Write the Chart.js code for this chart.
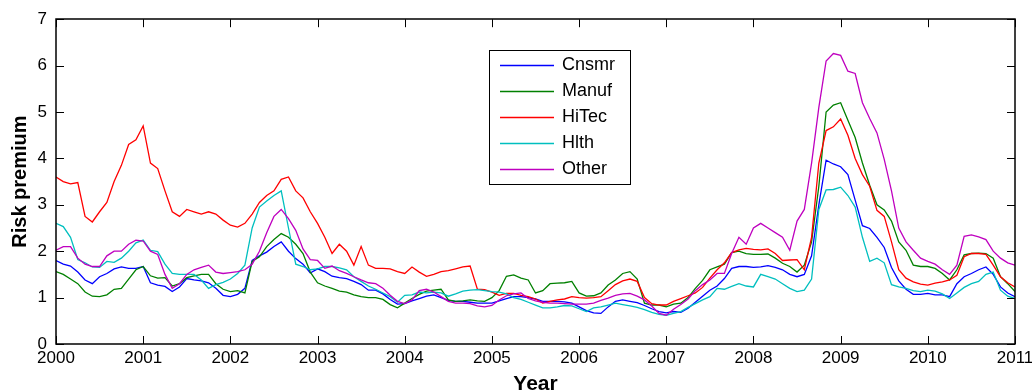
<!DOCTYPE html>
<html>
<head>
<meta charset="utf-8">
<script src="https://cdn.jsdelivr.net/npm/chart.js@4/dist/chart.umd.min.js"></script>
<style>
  html, body { margin: 0; padding: 0; background: #fff; }
</style>
</head>
<body>
<canvas id="premiumChart" width="1032" height="391"></canvas>
<script>
// ---------------- DATA ----------------
// monthly samples, Jan 2000 .. Jan 2011
const startYear = 2000;
const months = [];
for (let i = 0; i <= 132; i++) months.push(startYear + i / 12);

const yearTicks = [2000, 2001, 2002, 2003, 2004, 2005, 2006, 2007, 2008, 2009, 2010, 2011];
const premiumTicks = [0, 1, 2, 3, 4, 5, 6, 7];

const industries = ["Cnsmr", "Manuf", "HiTec", "Hlth", "Other"];
const lineColors = ["#0000ff", "#008000", "#ff0000", "#00bfbf", "#bf00bf"];

const cnsmr = [
  1.80, 1.72, 1.68, 1.55, 1.38, 1.30, 1.45, 1.52, 1.62, 1.66, 1.63, 1.63,
  1.67, 1.32, 1.27, 1.24, 1.13, 1.23, 1.41, 1.38, 1.36, 1.32, 1.20, 1.05,
  1.02, 1.07, 1.20, 1.80, 1.90, 1.98, 2.10, 2.20, 2.00, 1.84, 1.72, 1.53,
  1.62, 1.56, 1.46, 1.43, 1.41, 1.35, 1.28, 1.16, 1.16, 1.08, 0.96, 0.86,
  0.87, 0.93, 0.98, 1.03, 1.06, 1.00, 0.94, 0.92, 0.92, 0.90, 0.88, 0.88,
  0.88, 0.93, 0.98, 1.02, 1.02, 1.00, 0.97, 0.92, 0.92, 0.92, 0.91, 0.88,
  0.80, 0.72, 0.67, 0.66, 0.80, 0.92, 0.95, 0.92, 0.89, 0.83, 0.76, 0.70,
  0.67, 0.70, 0.68, 0.77, 0.90, 1.03, 1.16, 1.25, 1.41, 1.63, 1.67, 1.67,
  1.65, 1.66, 1.69, 1.65, 1.60, 1.50, 1.45, 1.50, 1.90, 3.00, 3.96, 3.88,
  3.82, 3.65, 3.10, 2.55, 2.49, 2.30, 2.08, 1.65, 1.36, 1.18, 1.07, 1.07,
  1.09, 1.06, 1.06, 1.02, 1.30, 1.45, 1.52, 1.60, 1.66, 1.50, 1.23, 1.10,
  1.02
];

const manuf = [
  1.56, 1.50, 1.40, 1.30, 1.12, 1.03, 1.02, 1.06, 1.18, 1.20, 1.40, 1.60,
  1.67, 1.47, 1.42, 1.43, 1.25, 1.30, 1.43, 1.47, 1.50, 1.50, 1.30, 1.18,
  1.13, 1.15, 1.10, 1.78, 1.88, 2.10, 2.25, 2.38, 2.30, 2.15, 1.95, 1.55,
  1.32, 1.25, 1.20, 1.14, 1.12, 1.06, 1.02, 1.00, 1.00, 0.96, 0.85, 0.78,
  0.88, 0.98, 1.07, 1.14, 1.16, 1.18, 0.95, 0.92, 0.93, 0.95, 0.93, 0.92,
  1.00, 1.15, 1.46, 1.49, 1.42, 1.38, 1.10, 1.15, 1.30, 1.31, 1.32, 1.35,
  1.10, 1.03, 1.04, 1.10, 1.27, 1.38, 1.52, 1.56, 1.40, 0.88, 0.84, 0.84,
  0.80, 0.86, 0.88, 1.00, 1.20, 1.37, 1.60, 1.66, 1.72, 1.97, 2.00, 1.95,
  1.93, 1.93, 1.94, 1.85, 1.74, 1.67, 1.55, 1.70, 2.20, 3.40, 5.00, 5.15,
  5.20, 4.82, 4.45, 3.90, 3.42, 3.00, 2.89, 2.65, 2.20, 2.02, 1.70, 1.67,
  1.67, 1.63, 1.52, 1.38, 1.60, 1.92, 1.95, 1.96, 1.95, 1.85, 1.45, 1.30,
  1.13
];

const hiTec = [
  3.60, 3.50, 3.45, 3.48, 2.75, 2.63, 2.85, 3.05, 3.50, 3.85, 4.30, 4.40,
  4.70, 3.90, 3.78, 3.30, 2.85, 2.75, 2.90, 2.85, 2.80, 2.85, 2.80, 2.67,
  2.56, 2.52, 2.60, 2.80, 3.05, 3.20, 3.30, 3.55, 3.60, 3.30, 3.15, 2.85,
  2.60, 2.30, 1.95, 2.15, 2.00, 1.70, 2.10, 1.70, 1.63, 1.63, 1.62, 1.56,
  1.52, 1.66, 1.55, 1.46, 1.50, 1.56, 1.58, 1.62, 1.66, 1.68, 1.18, 1.17,
  1.12, 1.05, 1.09, 1.09, 1.05, 1.02, 0.97, 0.88, 0.92, 0.95, 0.97, 1.02,
  1.00, 0.99, 1.00, 1.02, 1.15, 1.28, 1.36, 1.40, 1.35, 1.00, 0.87, 0.84,
  0.84, 0.92, 0.98, 1.04, 1.10, 1.22, 1.42, 1.60, 1.75, 1.97, 2.03, 2.06,
  2.04, 2.03, 2.05, 1.95, 1.80, 1.81, 1.82, 1.60, 2.30, 3.90, 4.60, 4.68,
  4.85, 4.50, 4.00, 3.65, 3.40, 2.88, 2.75, 2.20, 1.60, 1.42, 1.34, 1.29,
  1.27, 1.31, 1.34, 1.38, 1.48, 1.88, 1.95, 1.95, 1.93, 1.70, 1.45, 1.32,
  1.23
];

const hlth = [
  2.60, 2.53, 2.30, 1.82, 1.75, 1.66, 1.65, 1.78, 1.76, 1.85, 2.00, 2.18,
  2.24, 2.02, 1.99, 1.72, 1.52, 1.50, 1.50, 1.50, 1.38, 1.20, 1.28, 1.33,
  1.40, 1.52, 1.70, 2.50, 2.95, 3.08, 3.20, 3.30, 2.50, 1.72, 1.67, 1.60,
  1.62, 1.67, 1.67, 1.64, 1.60, 1.45, 1.35, 1.25, 1.18, 1.10, 1.02, 0.90,
  1.05, 1.06, 1.12, 1.10, 1.12, 1.10, 1.03, 1.08, 1.14, 1.16, 1.17, 1.15,
  1.13, 1.12, 1.08, 1.00, 0.96, 0.90, 0.84, 0.78, 0.78, 0.80, 0.83, 0.82,
  0.76, 0.70, 0.78, 0.80, 0.84, 0.88, 0.85, 0.82, 0.79, 0.74, 0.68, 0.64,
  0.62, 0.66, 0.70, 0.79, 0.87, 0.95, 1.02, 1.20, 1.18, 1.24, 1.30, 1.25,
  1.23, 1.50, 1.45, 1.40, 1.30, 1.20, 1.13, 1.16, 1.40, 2.90, 3.32, 3.33,
  3.38, 3.20, 2.95, 2.30, 1.78, 1.85, 1.75, 1.28, 1.23, 1.20, 1.15, 1.13,
  1.16, 1.14, 1.08, 0.98, 1.10, 1.22, 1.30, 1.35, 1.50, 1.55, 1.16, 1.03,
  0.98
];

const other = [
  2.02, 2.10, 2.10, 1.85, 1.72, 1.67, 1.67, 1.90, 2.00, 2.00, 2.15, 2.24,
  2.22, 2.00, 1.93, 1.50, 1.20, 1.30, 1.50, 1.60, 1.65, 1.70, 1.55, 1.52,
  1.54, 1.56, 1.60, 1.72, 2.00, 2.40, 2.75, 2.90, 2.70, 2.45, 2.05, 1.82,
  1.80, 1.63, 1.68, 1.58, 1.52, 1.45, 1.38, 1.32, 1.30, 1.20, 1.05, 0.92,
  0.87, 0.95, 1.15, 1.18, 1.12, 1.02, 0.92, 0.88, 0.88, 0.87, 0.82, 0.80,
  0.83, 0.95, 1.04, 1.08, 1.10, 0.98, 0.93, 0.90, 0.88, 0.88, 0.87, 0.86,
  0.86, 0.86, 0.88, 0.94, 0.99, 1.05, 1.08, 1.09, 1.03, 0.95, 0.82, 0.66,
  0.62, 0.75, 0.85, 0.97, 1.15, 1.28, 1.38, 1.52, 1.52, 1.95, 2.30, 2.15,
  2.50, 2.60, 2.50, 2.40, 2.30, 2.02, 2.65, 2.90, 3.90, 5.10, 6.10, 6.26,
  6.22, 5.88, 5.83, 5.20, 4.86, 4.55, 3.98, 3.30, 2.50, 2.20, 2.02, 1.85,
  1.78, 1.72, 1.60, 1.50, 1.70, 2.32, 2.35, 2.31, 2.25, 2.00, 1.85, 1.75,
  1.70
];

const seriesValues = [cnsmr, manuf, hiTec, hlth, other];

// ---------------- PLUGINS ----------------
const FONT = "'Liberation Sans', Arial, Helvetica, sans-serif";

// MATLAB-style box with inward ticks on all four sides
const axisBox = {
  id: "axisBox",
  afterDatasetsDraw(chart) {
    const { ctx, chartArea: a, scales: { x, y } } = chart;
    const tick = 8;
    ctx.save();
    ctx.strokeStyle = "#000";
    ctx.lineWidth = 1;
    ctx.beginPath();
    x.ticks.forEach(t => {
      const px = Math.round(x.getPixelForValue(t.value)) + 0.5;
      ctx.moveTo(px, a.bottom); ctx.lineTo(px, a.bottom - tick);
      ctx.moveTo(px, a.top); ctx.lineTo(px, a.top + tick);
    });
    y.ticks.forEach(t => {
      const py = Math.round(y.getPixelForValue(t.value)) + 0.5;
      ctx.moveTo(a.left, py); ctx.lineTo(a.left + tick, py);
      ctx.moveTo(a.right, py); ctx.lineTo(a.right - tick, py);
    });
    ctx.stroke();
    ctx.lineWidth = 1.5;
    ctx.strokeRect(Math.round(a.left), Math.round(a.top),
      Math.round(a.right - a.left), Math.round(a.bottom - a.top));
    ctx.restore();
  }
};

// legend box drawn inside the plot area
const innerLegend = {
  id: "innerLegend",
  afterDatasetsDraw(chart, args, opts) {
    const { ctx } = chart;
    const { left, top, width, height, rowHeight, firstRow } = opts;
    ctx.save();
    ctx.fillStyle = "#fff";
    ctx.fillRect(left, top, width, height);
    ctx.strokeStyle = "#000";
    ctx.lineWidth = 1;
    ctx.strokeRect(left + 0.5, top + 0.5, width, height);
    ctx.font = "18px " + FONT;
    ctx.textBaseline = "middle";
    chart.data.datasets.forEach((ds, i) => {
      const yy = top + firstRow + i * rowHeight;
      ctx.strokeStyle = ds.borderColor;
      ctx.lineWidth = 1.3;
      ctx.beginPath();
      ctx.moveTo(left + 11, yy + 0.5);
      ctx.lineTo(left + 65, yy + 0.5);
      ctx.stroke();
      ctx.fillStyle = "#000";
      ctx.fillText(ds.label, left + 73, yy);
    });
    ctx.restore();
  }
};

// ---------------- CHART ----------------
const datasets = industries.map((name, k) => ({
  label: name,
  data: months.map((t, i) => ({ x: t, y: seriesValues[k][i] })),
  borderColor: lineColors[k],
  borderWidth: 1.3,
  pointRadius: 0,
  tension: 0,
  fill: false,
  order: industries.length - k
}));

new Chart(document.getElementById("premiumChart"), {
  type: "line",
  data: { datasets },
  options: {
    responsive: false,
    animation: false,
    devicePixelRatio: 1,
    layout: { padding: { top: 19, right: 17, bottom: 0, left: 0 } },
    plugins: {
      legend: { display: false },
      tooltip: { enabled: false },
      innerLegend: { left: 489, top: 50, width: 141, height: 134, rowHeight: 26, firstRow: 15 }
    },
    scales: {
      x: {
        type: "linear",
        min: 2000,
        max: 2011,
        afterBuildTicks: s => { s.ticks = yearTicks.map(v => ({ value: v })); },
        afterFit: s => { s.height = 47; s.paddingRight = 0; s.paddingLeft = 0; },
        grid: { display: false, drawTicks: false },
        border: { display: false },
        ticks: {
          autoSkip: false,
          maxRotation: 0,
          padding: 4,
          color: "#000",
          font: { family: FONT, size: 17 },
          callback: v => String(v)
        },
        title: {
          display: true,
          text: "Year",
          color: "#000",
          font: { family: FONT, size: 21, weight: "bold" },
          padding: { top: 0, bottom: -6 }
        }
      },
      y: {
        min: 0,
        max: 7,
        afterBuildTicks: s => { s.ticks = premiumTicks.map(v => ({ value: v })); },
        afterFit: s => { s.width = 56; },
        grid: { display: false, drawTicks: false },
        border: { display: false },
        ticks: {
          padding: 9,
          color: "#000",
          font: { family: FONT, size: 17 }
        },
        title: {
          display: true,
          text: "Risk premium",
          color: "#000",
          font: { family: FONT, size: 20, weight: "bold" },
          padding: { top: 8, bottom: 0 }
        }
      }
    }
  },
  plugins: [axisBox, innerLegend]
});
</script>
</body>
</html>
